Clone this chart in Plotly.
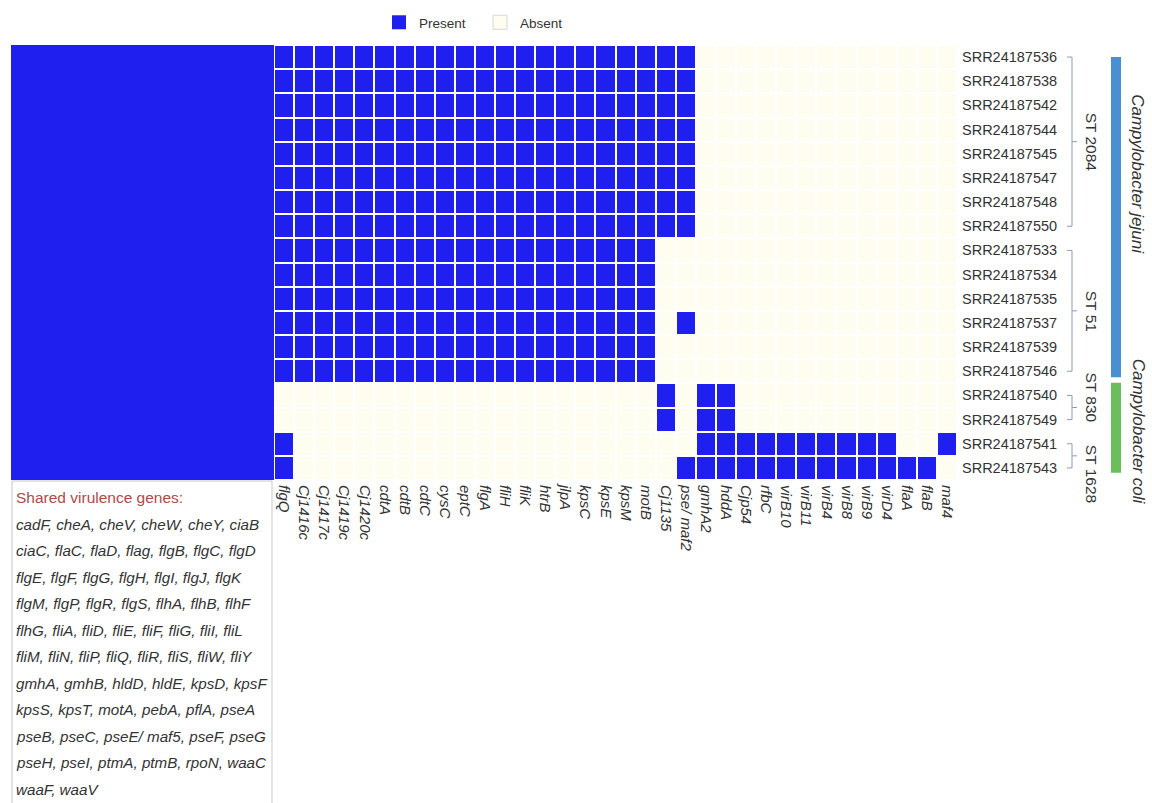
import plotly.graph_objects as go

W, H = 1152, 803

genes = ["flgQ", "Cj1416c", "Cj1417c", "Cj1419c", "Cj1420c", "cdtA", "cdtB", "cdtC",
         "cysC", "eptC", "flgA", "fliH", "fliK", "htrB", "jlpA", "kpsC", "kpsE", "kpsM",
         "motB", "Cj1135", "pse/ maf2", "gmhA2", "hddA", "Cjp54", "rfbC", "virB10",
         "virB11", "virB4", "virB8", "virB9", "virD4", "flaA", "flaB", "maf4"]

samples = ["SRR24187536", "SRR24187538", "SRR24187542", "SRR24187544", "SRR24187545",
           "SRR24187547", "SRR24187548", "SRR24187550", "SRR24187533", "SRR24187534",
           "SRR24187535", "SRR24187537", "SRR24187539", "SRR24187546", "SRR24187540",
           "SRR24187549", "SRR24187541", "SRR24187543"]

# presence (1) / absence (0) of the variable genes, one row per sample
presence = [
    [1]*21 + [0]*13,
    [1]*21 + [0]*13,
    [1]*21 + [0]*13,
    [1]*21 + [0]*13,
    [1]*21 + [0]*13,
    [1]*21 + [0]*13,
    [1]*21 + [0]*13,
    [1]*21 + [0]*13,
    [1]*19 + [0]*15,
    [1]*19 + [0]*15,
    [1]*19 + [0]*15,
    [1]*19 + [0, 1] + [0]*13,
    [1]*19 + [0]*15,
    [1]*19 + [0]*15,
    [0]*19 + [1, 0, 1, 1] + [0]*11,
    [0]*19 + [1, 0, 1, 1] + [0]*11,
    [1] + [0]*20 + [1]*10 + [0, 0, 1],
    [1] + [0]*19 + [1]*13 + [0],
]

# shared genes block: present in every sample
shared_presence = [[1]]

st_labels = ["ST 2084", "ST 51", "ST 830", "ST 1628"]
st_sizes = [8, 6, 2, 2]
st_label_shift = [0, 0, 10, -18]

species_labels = ["Campylobacter jejuni", "Campylobacter coli"]
species_sizes = [14, 4]
species_colors = ["#4a8fd2", "#6cbd5c"]

shared_title = "Shared virulence genes:"
shared_lines = [
    "cadF, cheA, cheV, cheW, cheY, ciaB",
    "ciaC, flaC, flaD, flag, flgB, flgC, flgD",
    "flgE, flgF, flgG, flgH, flgI, flgJ, flgK",
    "flgM, flgP, flgR, flgS, flhA, flhB, flhF",
    "flhG, fliA, fliD, fliE, fliF, fliG, fliI, fliL",
    "fliM, fliN, fliP, fliQ, fliR, fliS, fliW, fliY",
    "gmhA, gmhB, hldD, hldE, kpsD, kpsF",
    "kpsS, kpsT, motA, pebA, pflA, pseA",
    "pseB, pseC, pseE/ maf5, pseF, pseG",
    "pseH, pseI, ptmA, ptmB, rpoN, waaC",
    "waaF, waaV",
]

BLUE = "#1f1ff0"
CREAM = "#fffdf0"
FONT = "Liberation Sans"
TXT = "#333333"

# ---- geometry (pixels) ----
hm_left, hm_right, hm_top, hm_bottom = 11, 957, 45, 480
first_col_px = 274
ncol = len(genes)
cw = (hm_right - first_col_px) / ncol
block_w = (first_col_px - hm_left) / cw
xmin = -0.5 - block_w

def px_x(p):
    return p / W

def px_y(p):
    return 1 - p / H

cs = [[0, CREAM], [0.5, CREAM], [0.5, BLUE], [1, BLUE]]

fig = go.Figure()

fig.add_trace(go.Heatmap(
    z=shared_presence, x=[xmin, -0.5], y=[-0.5, len(samples) - 0.5],
    colorscale=cs, zmin=0, zmax=1, showscale=False, hoverinfo="skip"))

fig.add_trace(go.Heatmap(
    z=presence, x=list(range(ncol)), y=list(range(len(samples))),
    colorscale=cs, zmin=0, zmax=1, showscale=False, xgap=2, ygap=2,
    customdata=[[g for g in genes] for _ in samples],
    hovertemplate="%{customdata}<extra></extra>"))

# legend entries
fig.add_trace(go.Scatter(x=[None], y=[None], mode="markers", name="Present",
                         marker=dict(symbol="square", size=14, color=BLUE)))
fig.add_trace(go.Scatter(x=[None], y=[None], mode="markers", name="Absent",
                         marker=dict(symbol="square", size=14, color=CREAM,
                                     line=dict(color="#d8d8d8", width=1))))

shapes = []
annotations = []

# ST brackets
bx = px_x(1072)
start = 0
for lab, n, sh in zip(st_labels, st_sizes, st_label_shift):
    a, b = start, start + n - 1
    line = dict(color="#8f9bb0", width=1)
    shapes.append(dict(type="line", xref="paper", yref="y", x0=bx, x1=bx, y0=a, y1=b, line=line))
    shapes.append(dict(type="line", xref="paper", yref="y", x0=px_x(1067), x1=bx, y0=a, y1=a, line=line))
    shapes.append(dict(type="line", xref="paper", yref="y", x0=px_x(1067), x1=bx, y0=b, y1=b, line=line))
    shapes.append(dict(type="line", xref="paper", yref="y", x0=bx, x1=px_x(1077),
                       y0=(a + b) / 2, y1=(a + b) / 2, line=line))
    annotations.append(dict(xref="paper", yref="y", x=px_x(1091), y=(a + b) / 2, yshift=sh,
                            xanchor="center", yanchor="middle",
                            text=lab, textangle=90, showarrow=False,
                            font=dict(family=FONT, size=15.5, color=TXT)))
    start += n

# species bars
start = 0
sp_shift = [40, 0]
for i, (lab, n, col) in enumerate(zip(species_labels, species_sizes, species_colors)):
    a, b = start, start + n - 1
    y0 = a if i == 0 else a - 0.52
    y1 = b + 0.25 if i == 0 else b + 0.2
    shapes.append(dict(type="rect", xref="paper", yref="y", x0=px_x(1111), x1=px_x(1121),
                       y0=y0, y1=y1, fillcolor=col, line=dict(width=0)))
    annotations.append(dict(xref="paper", yref="y", x=px_x(1138), y=(a + b) / 2, yshift=sp_shift[i],
                            xanchor="center", yanchor="middle",
                            text="<i>%s</i>" % lab, textangle=90, showarrow=False,
                            font=dict(family=FONT, size=17, color=TXT)))
    start += n

# shared genes box
shapes.append(dict(type="rect", xref="paper", yref="paper", x0=px_x(12), x1=px_x(272),
                   y0=-0.02, y1=px_y(481), line=dict(color="#c8c8c8", width=1)))
annotations.append(dict(xref="paper", yref="paper", x=px_x(14), y=px_y(497),
                        xanchor="left", yanchor="middle",
                        text=shared_title, showarrow=False,
                        font=dict(family=FONT, size=15.5, color="#b04a4a")))
for k, ln in enumerate(shared_lines):
    annotations.append(dict(xref="paper", yref="paper", x=px_x(14), y=px_y(524 + 26.5 * k),
                            xanchor="left", yanchor="middle", text="<i>%s</i>" % ln,
                            showarrow=False,
                            font=dict(family=FONT, size=15.2, color=TXT)))

fig.update_layout(
    width=W, height=H, margin=dict(l=0, r=0, t=0, b=0),
    paper_bgcolor="white", plot_bgcolor="white",
    font=dict(family=FONT, size=14, color=TXT),
    xaxis=dict(domain=[px_x(hm_left), px_x(hm_right)], range=[xmin, ncol - 0.5],
               tickvals=list(range(ncol)), ticktext=["<i>%s</i>" % g for g in genes],
               tickangle=90, showgrid=False, zeroline=False, showline=False, ticks="",
               ticklabelstandoff=4,
               tickfont=dict(family=FONT, size=15, color=TXT), fixedrange=True),
    yaxis=dict(domain=[px_y(hm_bottom), px_y(hm_top)], range=[len(samples) - 0.5, -0.5],
               tickvals=list(range(len(samples))), ticktext=samples, side="right",
               showgrid=False, zeroline=False, showline=False, ticks="",
               ticklabelstandoff=4,
               tickfont=dict(family=FONT, size=14.5, color=TXT), fixedrange=True),
    showlegend=True,
    legend=dict(orientation="h", x=px_x(379), y=px_y(7), xanchor="left", yanchor="top",
                font=dict(family=FONT, size=13.5, color=TXT), entrywidth=56,
                bgcolor="rgba(0,0,0,0)"),
    shapes=shapes, annotations=annotations,
)

fig.write_html("out.html")
